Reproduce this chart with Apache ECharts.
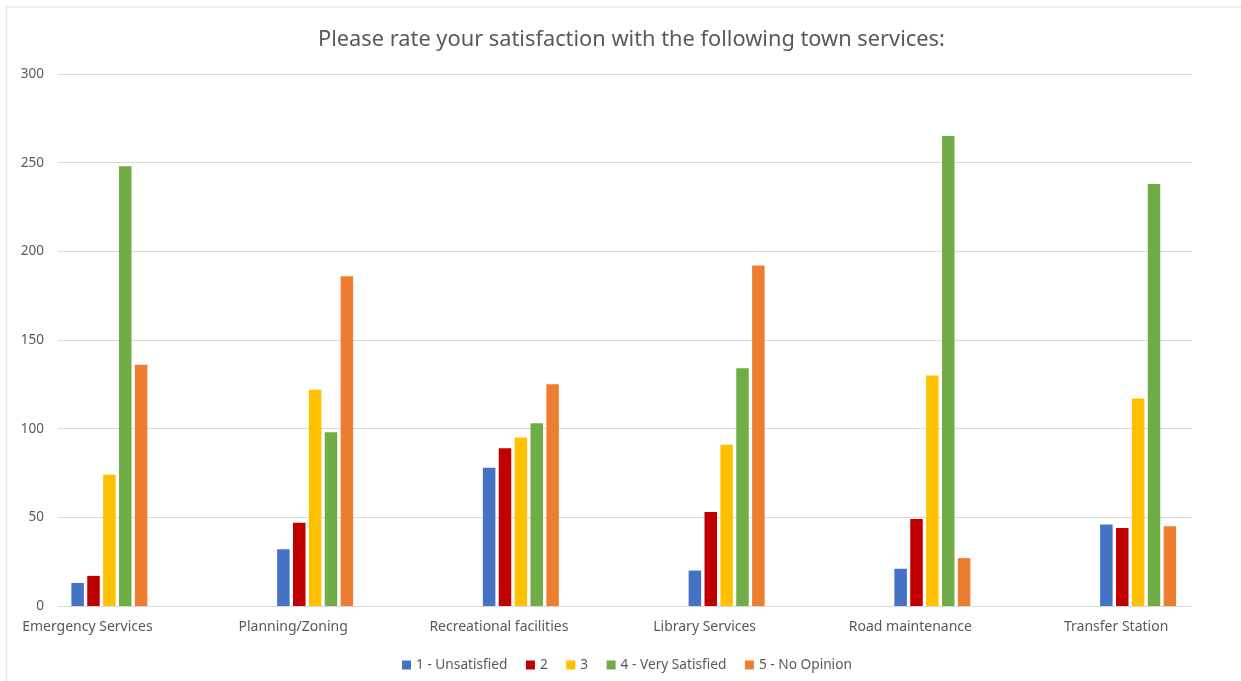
<!DOCTYPE html>
<html>
<head>
<meta charset="utf-8">
<script src="https://cdn.jsdelivr.net/npm/echarts@6/dist/echarts.min.js"></script>
<style>html,body{margin:0;padding:0;background:#fff;}#c{width:1241px;height:681px;}</style>
</head>
<body>
<div id="c"></div>
<script>
const titleText = 'Please rate your satisfaction with the following town services:';
const categories = ['Emergency Services', 'Planning/Zoning', 'Recreational facilities', 'Library Services', 'Road maintenance', 'Transfer Station'];
const seriesNames = ['1 - Unsatisfied', '2', '3', '4 - Very Satisfied', '5 - No Opinion'];
const unsatisfied = [13, 32, 78, 20, 21, 46];
const rating2 = [17, 47, 89, 53, 49, 44];
const rating3 = [74, 122, 95, 91, 130, 117];
const verySatisfied = [248, 98, 103, 134, 265, 238];
const noOpinion = [136, 186, 125, 192, 27, 45];
const yMin = 0, yMax = 300, yStep = 50;

const colors = ['#4472C4', '#C00000', '#FFC000', '#70AD47', '#ED7D31'];
const values = [unsatisfied, rating2, rating3, verySatisfied, noOpinion];
const textColor = '#595959';
const fontFamily = '"Noto Sans", "Open Sans", sans-serif';

const chart = echarts.init(document.getElementById('c'), null, {renderer: 'canvas'});
const option = {
  animation: false,
  backgroundColor: '#fff',
  title: {
    text: titleText, left: 313, top: 24,
    textStyle: {color: textColor, fontSize: 21.8, fontWeight: 'normal', fontFamily: fontFamily}
  },
  legend: {
    data: seriesNames, top: 653, left: 397,
    itemWidth: 9, itemHeight: 9, itemGap: 18.5, icon: 'rect',
    textStyle: {color: textColor, fontSize: 13.7, fontFamily: fontFamily}
  },
  graphic: [
    {type: 'line', shape: {x1: 6, y1: 7, x2: 1241, y2: 7}, style: {stroke: '#E6E6E6', lineWidth: 1.5}, silent: true},
    {type: 'line', shape: {x1: 6.5, y1: 7, x2: 6.5, y2: 681}, style: {stroke: '#E6E6E6', lineWidth: 1.5}, silent: true}
  ],
  grid: [
    {left: 58, right: 49, top: 74, bottom: 75, containLabel: false},
    {left: 6.5, width: 1238, top: 74, bottom: 75, containLabel: false}
  ],
  xAxis: [
    {type: 'category', gridIndex: 0, data: categories, show: false},
    {type: 'category', gridIndex: 1, data: categories, boundaryGap: true,
     axisLine: {show: false}, axisTick: {show: false}, splitLine: {show: false},
     axisLabel: {color: textColor, fontSize: 14, fontFamily: fontFamily, margin: 14, interval: 0, padding: [0, 44, 0, 0]}}
  ],
  yAxis: [
    {type: 'value', gridIndex: 0, min: yMin, max: yMax, interval: yStep,
     axisLine: {show: false}, axisTick: {show: false},
     axisLabel: {color: textColor, fontSize: 13.5, fontFamily: fontFamily, margin: 14},
     splitLine: {lineStyle: {color: '#D9D9D9', width: 1}}},
    {type: 'value', gridIndex: 1, min: yMin, max: yMax, interval: yStep, show: false}
  ],
  series: seriesNames.map((name, i) => ({
    name: name, type: 'bar', xAxisIndex: 1, yAxisIndex: 1,
    data: values[i], barWidth: 12.5, barGap: '27%',
    itemStyle: {color: colors[i]}
  }))
};
chart.setOption(option);
</script>
</body>
</html>
